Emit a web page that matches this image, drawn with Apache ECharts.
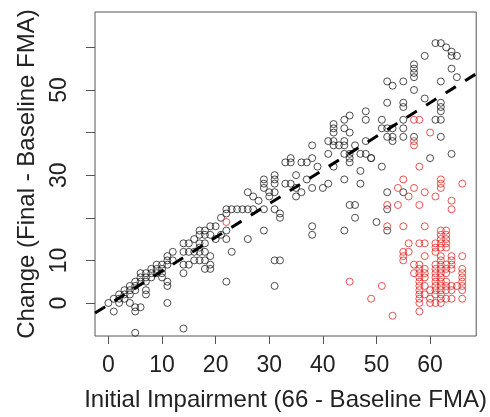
<!DOCTYPE html>
<html>
<head>
<meta charset="utf-8">
<script src="https://cdn.jsdelivr.net/npm/echarts@6/dist/echarts.min.js"></script>
<style>html,body{margin:0;padding:0;background:#fff}#c{width:490px;height:417px}</style>
</head>
<body>
<div id="c"></div>
<script>
// ---- data ----
const xTicks = [0, 10, 20, 30, 40, 50, 60];
const xTickLabels = [0, 10, 20, 30, 40, 50, 60];
const yTicks = [0, 10, 20, 30, 40, 50, 60];
const yTickLabels = [0, 10, 30, 50];
const xTitle = 'Initial Impairment (66 - Baseline FMA)';
const yTitle = 'Change (Final - Baseline FMA)';
const fitIntercept = -0.4;
const fitSlope = 0.79;

const blackPoints = [
[0,0],[1,1],[1,-2],[2,2],[2,0],[2,1],[3,3],[3,2],[3,1],[4,4],[4,0],[4,3],[4,2],
[5,5],[5,4],[5,3],[5,-1],[5,-2],[5,-7],[6,-1],[6,7],[6,5],[6,6],[7,7],[7,6],[7,5],[7,3],[7,2],
[8,8],[8,7],[8,6],[9,9],[9,8],[9,7],[10,9],[10,8],[10,7],[10,6],[11,5],[11,11],[11,10],[11,9],
[11,4],[11,0],[12,12],[12,10],[14,14],[15,14],[14,12],[15,12],[14,9],[14,7],[15,9],[14,-6],
[16,12],[16,10],[16,15],[17,16],[17,14],[17,13],[17,12],[17,10],[17,17],[18,17],[18,16],[18,14],
[18,12],[18,10],[18,8],[19,16],[19,11],[19,9],[19,8],[19,18],[20,18],[21,20],[20,15],[21,16],
[22,22],[23,22],[22,21],[22,17],[22,15],[23,12],[22,5],[24,22],[25,22],[26,26],[27,25],[26,15],
[27,22],[28,24],[26,22],[29,29],[29,28],[29,27],[30,26],[30,25],[29,22],[31,30],[31,29],[31,28],
[31,26],[31,22],[32,21],[32,20],[29,17],[31,10],[32,10],[31,4],[33,33],[33,28],[34,34],[34,33],
[36,33],[37,33],[38,34],[38,37],[35,30],[34,28],[35,27],[36,26],[35,25],[37,29],[39,32],[38,27],
[40,27],[41,28],[41,35],[41,38],[42,38],[42,40],[42,41],[42,42],[43,37],[42,37],[44,43],[44,41],
[45,44],[45,40],[44,38],[44,37],[44,35],[45,35],[45,34],[45,33],[46,37],[42,32],[44,29],[47,31],
[47,28],[47,35],[48,35],[49,34],[48,38],[48,45],[48,43],[45,23],[46,23],[38,18],[38,16],[44,17],
[46,20],[50,19],[52,22],[52,17],[51,32],[60,34],[52,26],[55,26],
[61,61],[62,61],[63,60],[64,59],[64,58],[65,58],[59,58],[57,56],[57,55],[57,54],[57,53],[52,52],
[53,51],[55,52],[57,50],[64,55],[65,53],[62,52],[52,47],[55,47],[55,46],[59,48],[62,47],[62,46],
[62,45],[62,43],[61,43],[51,43],[51,41],[52,41],[53,41],[53,39],[55,43],[55,41],[55,39],[52,39],
[53,38],[62,39],[64,35],[49,34],[57,39]
];

const redPoints = [
[22,19],
[57,43],[58,43],[57,38],[57,37],[60,40],[58,32],
[55,29],[54,27],[57,27],[56,25],[59,26],[61,25],[62,29],[62,28],[62,27],[66,28],
[52,23],[54,23],[58,23],[64,24],[64,22],[55,18],[59,18],[52,18],
[56,14],[58,14],[59,14],[61,14],[62,17],[63,17],[62,16],[63,16],[62,15],[63,15],[62,14],[63,14],
[62,13],[63,13],[61,13],[61,12],[55,12],[55,11],[55,10],[56,12],[59,11],[66,11],[64,11],[64,10],
[57,9],[57,7],[58,9],[58,8],[58,7],[58,6],[58,5],[58,4],[58,3],[58,2],[58,1],[58,0],[58,-2],
[59,8],[59,7],[59,6],[59,4],[59,2],
[60,3],[60,1],[60,0],
[61,9],[61,8],[61,7],[61,6],[61,5],[61,4],[61,3],[61,2],[61,0],
[62,11],[62,10],[62,9],[62,8],[62,7],[62,6],[62,5],[62,4],[62,3],[62,2],[62,1],[62,0],
[63,9],[63,8],[63,7],[63,5],[63,4],[63,3],[63,1],
[64,9],[64,8],[64,4],[64,3],[64,1],[65,4],
[66,8],[66,7],[66,6],[66,5],[66,4],[66,3],[66,1],
[51,4],[49,1],[53,-3],[45,5]
];

// ---- chart ----
const xMin = -2.5, xMax = 68.6, yMin = -7.75, yMax = 68.3;
const FONT = '"Liberation Sans", Arial, sans-serif';
const TXT = '#222';
const chart = echarts.init(document.getElementById('c'), null, {renderer: 'canvas'});
chart.setOption({
  animation: false,
  backgroundColor: '#fff',
  grid: {left: 95, top: 12, right: 13, bottom: 81, show: true, borderColor: '#555', borderWidth: 1, backgroundColor: 'transparent'},
  xAxis: {
    type: 'value', min: xMin, max: xMax,
    name: xTitle, nameLocation: 'middle', nameGap: 52,
    nameTextStyle: {fontFamily: FONT, fontSize: 24, color: TXT},
    axisLine: {show: false, onZero: false},
    splitLine: {show: false},
    axisTick: {show: true, length: 8, inside: false, customValues: xTicks, lineStyle: {color: '#555'}},
    axisLabel: {customValues: xTickLabels, fontFamily: FONT, fontSize: 23, color: TXT, margin: 18}
  },
  yAxis: {
    type: 'value', min: yMin, max: yMax,
    name: yTitle, nameLocation: 'middle', nameGap: 56, nameRotate: 90,
    nameTextStyle: {fontFamily: FONT, fontSize: 24, color: TXT},
    axisLine: {show: false, onZero: false},
    splitLine: {show: false},
    axisTick: {show: true, length: 9, inside: false, customValues: yTicks, lineStyle: {color: '#555'}},
    axisLabel: {customValues: yTickLabels, rotate: 90, fontFamily: FONT, fontSize: 23, color: TXT, margin: 24}
  },
  series: [
    {
      type: 'scatter', data: blackPoints, symbol: 'circle', symbolSize: 7,
      itemStyle: {color: 'transparent', borderColor: '#222', borderWidth: 1}, z: 2
    },
    {
      type: 'scatter', data: redPoints, symbol: 'circle', symbolSize: 7,
      itemStyle: {color: 'transparent', borderColor: '#e42a2a', borderWidth: 1}, z: 3
    },
    {
      type: 'line', symbol: 'none', z: 4, clip: true,
      data: [[xMin, fitIntercept + fitSlope * xMin], [xMax, fitIntercept + fitSlope * xMax]],
      lineStyle: {color: '#000', width: 3, type: [12, 11]}
    }
  ]
});
</script>
</body>
</html>
